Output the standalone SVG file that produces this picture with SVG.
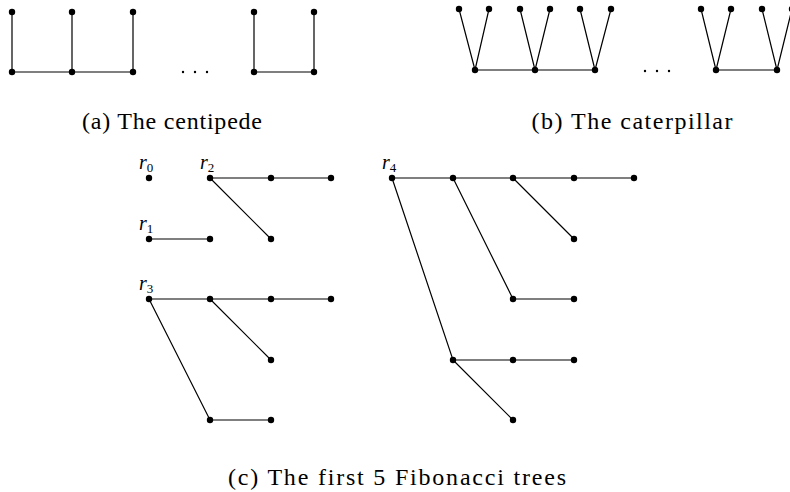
<svg xmlns="http://www.w3.org/2000/svg" width="790" height="492" viewBox="0 0 790 492">
<style>
.e{stroke:#000;stroke-width:1.2;fill:none}
.v{fill:#000}
.cap{font-family:"Liberation Serif","DejaVu Serif",serif;font-size:24px;fill:#000}
.lbl{font-family:"Liberation Serif","DejaVu Serif",serif;font-size:20px;font-style:italic;fill:#000}
.sub{font-size:13px;font-style:normal}
</style>
<defs><circle id="d" r="3.2" class="v"/></defs>
<rect width="790" height="492" fill="#fff"/>
<g id="connectors">
<path class="e" d="M12,12V72H133V12M72,12V72M254,12V72H314V12"/>
<path class="e" d="M459,9L475,70L489,9M520,9L535,70L550,9M580,9L595,70L611,9M475,70H595M701,9L716,70L731,9M762,9L777,70L792,9M716,70H777"/>
<path class="e" d="M149,239H210M210,178H331M210,178L271,239"/>
<path class="e" d="M149,299H331M210,299L271,360M149,299L210,420H271"/>
<path class="e" d="M392,178H634M513,178L574,239M453,178L513,299H574M392,178L453,360H574M453,360L513,420"/>
</g>
<g id="centipede">
<use href="#d" x="12" y="12"/><use href="#d" x="72" y="12"/><use href="#d" x="133" y="12"/><use href="#d" x="254" y="12"/><use href="#d" x="314" y="12"/>
<use href="#d" x="12" y="72"/><use href="#d" x="72" y="72"/><use href="#d" x="133" y="72"/><use href="#d" x="254" y="72"/><use href="#d" x="314" y="72"/>
<circle cx="183" cy="72" r="1.2" class="v"/><circle cx="195" cy="72" r="1.2" class="v"/><circle cx="207" cy="72" r="1.2" class="v"/>
<text class="cap" x="172" y="129" text-anchor="middle" textLength="180">(a) The centipede</text>
</g>
<g id="caterpillar">
<use href="#d" x="459" y="9"/><use href="#d" x="489" y="9"/><use href="#d" x="520" y="9"/><use href="#d" x="550" y="9"/><use href="#d" x="580" y="9"/><use href="#d" x="611" y="9"/>
<use href="#d" x="701" y="9"/><use href="#d" x="731" y="9"/><use href="#d" x="762" y="9"/><use href="#d" x="792" y="9"/>
<use href="#d" x="475" y="70"/><use href="#d" x="535" y="70"/><use href="#d" x="595" y="70"/><use href="#d" x="716" y="70"/><use href="#d" x="777" y="70"/>
<circle cx="645" cy="71" r="1.2" class="v"/><circle cx="657" cy="71" r="1.2" class="v"/><circle cx="669" cy="71" r="1.2" class="v"/>
<text class="cap" x="632" y="129" text-anchor="middle" textLength="201">(b) The caterpillar</text>
</g>
<g id="r0">
<use href="#d" x="149" y="178"/>
<text class="lbl" x="139" y="169">r<tspan class="sub" dy="3">0</tspan></text>
</g>
<g id="r1">
<use href="#d" x="149" y="239"/><use href="#d" x="210" y="239"/>
<text class="lbl" x="139" y="230">r<tspan class="sub" dy="3">1</tspan></text>
</g>
<g id="r2">
<use href="#d" x="210" y="178"/><use href="#d" x="271" y="178"/><use href="#d" x="331" y="178"/><use href="#d" x="271" y="239"/>
<text class="lbl" x="200" y="169">r<tspan class="sub" dy="3">2</tspan></text>
</g>
<g id="r3">
<use href="#d" x="149" y="299"/><use href="#d" x="210" y="299"/><use href="#d" x="271" y="299"/><use href="#d" x="331" y="299"/><use href="#d" x="271" y="360"/><use href="#d" x="210" y="420"/><use href="#d" x="271" y="420"/>
<text class="lbl" x="139" y="290">r<tspan class="sub" dy="3">3</tspan></text>
</g>
<g id="r4">
<use href="#d" x="392" y="178"/><use href="#d" x="453" y="178"/><use href="#d" x="513" y="178"/><use href="#d" x="574" y="178"/><use href="#d" x="634" y="178"/>
<use href="#d" x="574" y="239"/><use href="#d" x="513" y="299"/><use href="#d" x="574" y="299"/>
<use href="#d" x="453" y="360"/><use href="#d" x="513" y="360"/><use href="#d" x="574" y="360"/><use href="#d" x="513" y="420"/>
<text class="lbl" x="382" y="169">r<tspan class="sub" dy="3">4</tspan></text>
</g>
<text class="cap" x="397" y="485" text-anchor="middle" textLength="338">(c) The first 5 Fibonacci trees</text>
</svg>
